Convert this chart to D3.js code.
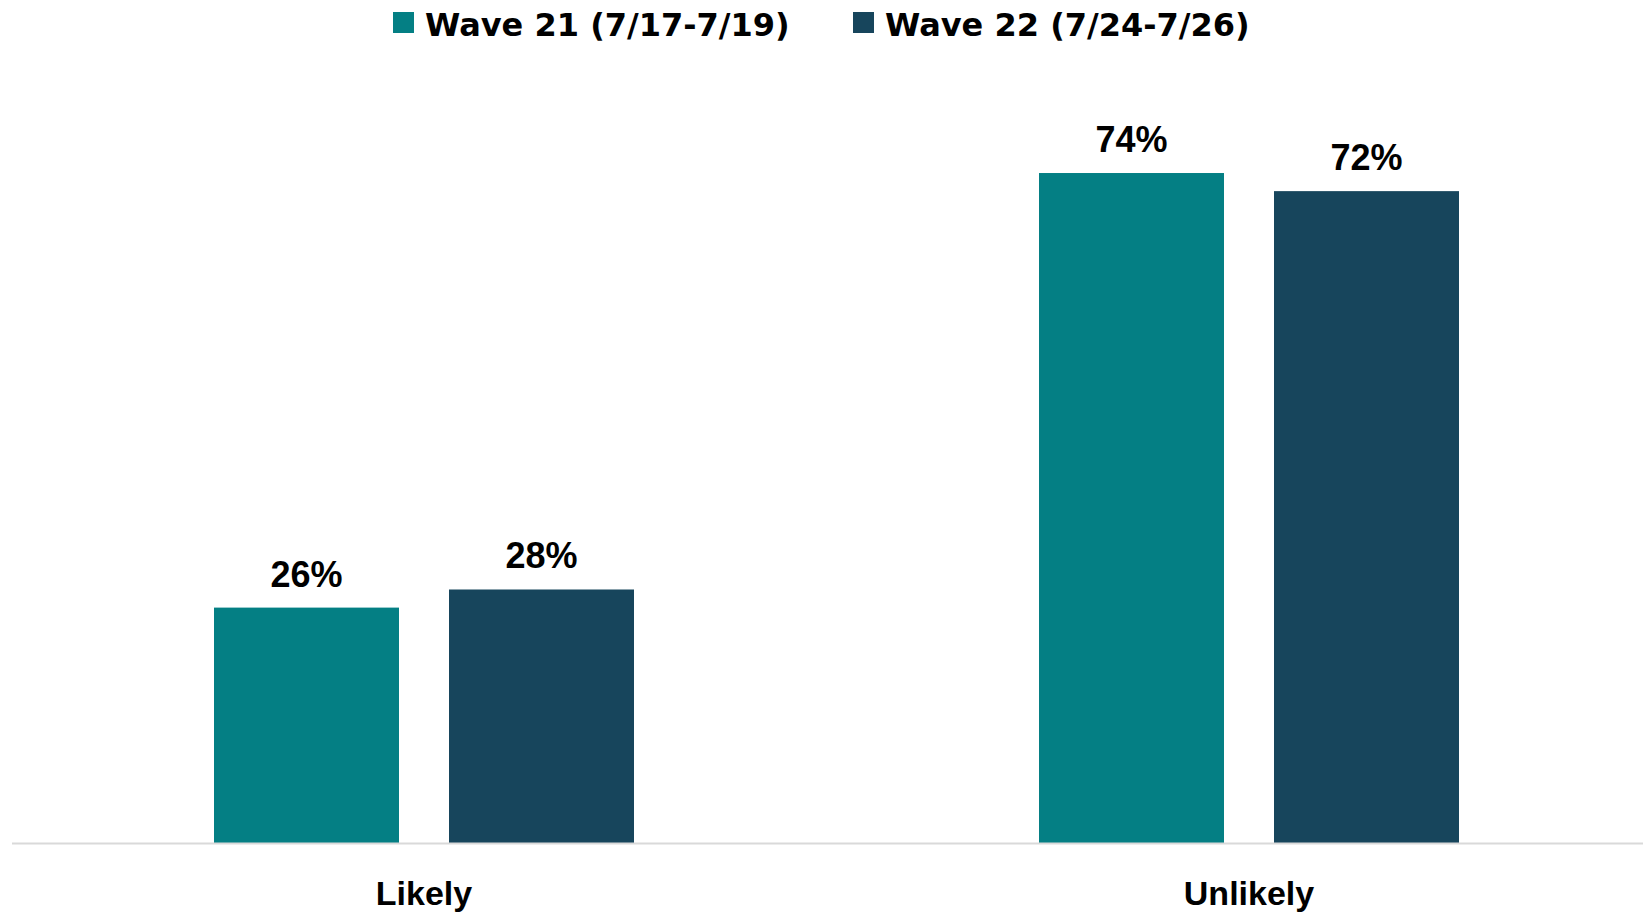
<!DOCTYPE html>
<html>
<head>
<meta charset="utf-8">
<script src="https://cdn.jsdelivr.net/npm/d3@7"></script>
<style>
  html, body { margin: 0; padding: 0; background: #fff; overflow: hidden; }
  svg { display: block; }
</style>
</head>
<body>
<svg id="chart" width="1643" height="915"></svg>
<script>
const categories = ["Likely", "Unlikely"];
const seriesNames = ["Wave 21 (7/17-7/19)", "Wave 22 (7/24-7/26)"];
const wave21 = [26, 74];
const wave22 = [28, 72];
const seriesColors = ["#047F84", "#17455C"];

const seriesValues = [wave21, wave22];
const svg = d3.select("#chart");

const baseY = 843;
const x = d3.scaleBand().domain(categories).range([11.5, 1661.5]).paddingInner(0).paddingOuter(0);
const xSub = d3.scaleBand().domain(d3.range(seriesNames.length))
  .range([202.5, x.bandwidth() - 202.5]).paddingInner(50 / 235).paddingOuter(0);
const y = d3.scaleLinear().domain([0, 80]).range([baseY, 118.7]);

// bars
categories.forEach((cat, ci) => {
  const g = svg.append("g").attr("transform", `translate(${x(cat)},0)`);
  seriesValues.forEach((vals, si) => {
    const v = vals[ci];
    g.append("rect")
      .attr("x", xSub(si))
      .attr("y", y(v))
      .attr("width", xSub.bandwidth())
      .attr("height", y(0) - y(v))
      .attr("fill", seriesColors[si]);
    g.append("text")
      .attr("x", xSub(si) + xSub.bandwidth() / 2)
      .attr("y", y(v) - 21)
      .attr("text-anchor", "middle")
      .attr("font-family", "'Liberation Sans', Arial, sans-serif")
      .attr("font-weight", "bold")
      .attr("font-size", 36)
      .attr("fill", "#000")
      .text(v + "%");
  });
});

// axis
const axis = d3.axisBottom(x).tickSize(0).tickPadding(0);
const ag = svg.append("g").attr("transform", `translate(0,${baseY})`).call(axis);
ag.select(".domain").attr("stroke", "#D9D9D9").attr("stroke-width", 2);
ag.selectAll(".tick text")
  .attr("dy", null)
  .attr("y", 62)
  .attr("fill", "#000")
  .attr("font-family", "'Liberation Sans', Arial, sans-serif")
  .attr("font-weight", "bold")
  .attr("font-size", 34);
ag.attr("font-family", null).attr("font-size", null);

// legend
const legendX = [393, 853];
const lg = svg.append("g");
seriesNames.forEach((name, i) => {
  lg.append("rect")
    .attr("x", legendX[i]).attr("y", 12)
    .attr("width", 21).attr("height", 21)
    .attr("fill", seriesColors[i]);
  lg.append("text")
    .attr("x", legendX[i] + 32).attr("y", 36)
    .attr("font-family", "'DejaVu Sans', sans-serif")
    .attr("font-weight", "bold")
    .attr("font-size", 32)
    .attr("fill", "#000")
    .text(name);
});
</script>
</body>
</html>
